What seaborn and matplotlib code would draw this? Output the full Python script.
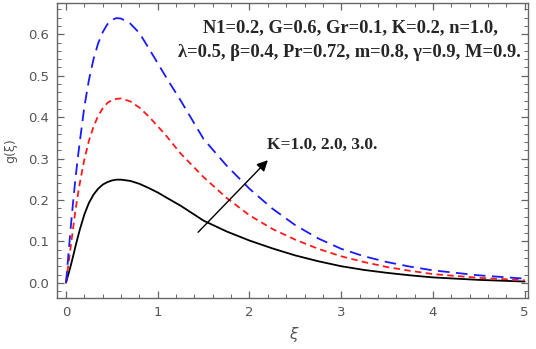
import numpy as np
import pandas as pd
import matplotlib
matplotlib.use('Agg')
import matplotlib.pyplot as plt
import seaborn as sns

# values
xi = [0, 0.025, 0.05, 0.075, 0.1, 0.125, 0.15, 0.2, 0.25, 0.3, 0.35, 0.4,
      0.45, 0.5, 0.55, 0.6, 0.7, 0.8, 0.9, 1.0, 1.1, 1.25, 1.5, 1.75, 2.0,
      2.25, 2.5, 2.75, 3.0, 3.25, 3.5, 3.75, 4.0, 4.5, 5.0]
g_k1 = [0, 0.02, 0.04, 0.062, 0.085, 0.107, 0.128, 0.165, 0.193, 0.213,
        0.227, 0.237, 0.243, 0.247, 0.249, 0.249, 0.246, 0.239, 0.229, 0.218,
        0.205, 0.186, 0.150, 0.124, 0.102, 0.083, 0.066, 0.052, 0.040, 0.031,
        0.024, 0.018, 0.013, 0.007, 0.003]
g_k2 = [0, 0.043, 0.085, 0.128, 0.17, 0.207, 0.24, 0.298, 0.343, 0.377,
        0.403, 0.421, 0.434, 0.441, 0.444, 0.445, 0.438, 0.423, 0.402, 0.378,
        0.353, 0.312, 0.255, 0.205, 0.163, 0.130, 0.104, 0.082, 0.064, 0.050,
        0.038, 0.029, 0.021, 0.012, 0.006]
g_k3 = [0, 0.065, 0.13, 0.19, 0.245, 0.295, 0.34, 0.425, 0.49, 0.54, 0.578,
        0.605, 0.624, 0.635, 0.639, 0.638, 0.626, 0.603, 0.567, 0.53, 0.493,
        0.44, 0.347, 0.283, 0.227, 0.179, 0.139, 0.107, 0.082, 0.064, 0.050,
        0.039, 0.030, 0.018, 0.010]
k_labels = ['K=1.0', 'K=2.0', 'K=3.0']

df = pd.DataFrame({
    'xi': xi * 3,
    'g': g_k1 + g_k2 + g_k3,
    'K': [k for k in k_labels for _ in xi],
})

sns.set_style('ticks')
plt.rcParams['font.family'] = ['DejaVu Sans']

fig = plt.figure(figsize=(5.36, 3.49), dpi=100)
ax = fig.add_axes([0.1069, 0.147, 0.8788, 0.845])

palette = {'K=1.0': 'black', 'K=2.0': '#ff1a1a', 'K=3.0': '#1a1aff'}
dashes = {'K=1.0': '', 'K=2.0': (3.6, 2.4), 'K=3.0': (6.4, 3.6)}
sns.lineplot(data=df, x='xi', y='g', hue='K', style='K', palette=palette,
             dashes=dashes, linewidth=1.3, legend=False, ax=ax)

ax.set_xlim(-0.095, 5.04)
ax.set_ylim(-0.036, 0.676)
ax.set_xticks([0, 1, 2, 3, 4, 5])
ax.set_xticks(np.arange(0, 5.01, 0.2), minor=True)
ax.set_yticks([0.0, 0.1, 0.2, 0.3, 0.4, 0.5, 0.6])
ax.set_yticks(np.arange(-0.02, 0.67, 0.02), minor=True)
ax.set_xticklabels(['0', '1', '2', '3', '4', '5'])
ax.set_yticklabels(['0.0', '0.1', '0.2', '0.3', '0.4', '0.5', '0.6'])

for s in ax.spines.values():
    s.set_color('#666666')
    s.set_linewidth(1.0)
ax.tick_params(which='both', direction='in', top=True, right=True,
               color='#666666', labelcolor='#555555', labelsize=9.5)
ax.tick_params(which='major', length=5, width=0.9, pad=6)
ax.tick_params(which='minor', length=3, width=0.7)

ax.set_xlabel('ξ', fontsize=11, style='italic', color='#555555', labelpad=6)
ax.set_ylabel('g(ξ)', fontsize=9, color='#555555', labelpad=8)

serif = ['Liberation Serif', 'DejaVu Serif']
ax.text(1.49, 0.615, 'N1=0.2, G=0.6, Gr=0.1, K=0.2, n=1.0,', ha='left',
        va='center', fontsize=13.3, fontweight='bold', family=serif)
ax.text(1.22, 0.557, 'λ=0.5, β=0.4, Pr=0.72, m=0.8, γ=0.9, M=0.9.', ha='left',
        va='center', fontsize=13.3, fontweight='bold', family=serif)
ax.text(2.19, 0.333, 'K=1.0, 2.0, 3.0.', ha='left', va='center',
        fontsize=12.5, fontweight='bold', family=serif)

ax.annotate('', xy=(2.2, 0.296), xytext=(1.44, 0.122),
            arrowprops=dict(arrowstyle='-|>', color='black', lw=1.0,
                            mutation_scale=16, shrinkA=0, shrinkB=0))

fig.savefig('out.png', dpi=100)
